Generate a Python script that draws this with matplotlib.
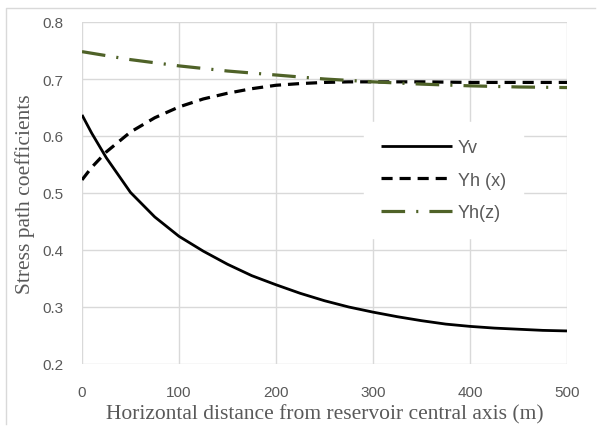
import matplotlib
matplotlib.use("Agg")
import matplotlib.pyplot as plt
from matplotlib.lines import Line2D

# distances (m) and stress path coefficients
x_yv = [0, 10, 25, 50, 75, 100, 125, 150, 175, 200, 225, 250, 275, 300,
        325, 350, 375, 400, 425, 450, 475, 500]
yv = [0.637, 0.605, 0.562, 0.501, 0.458, 0.424, 0.398, 0.375, 0.355, 0.339,
      0.324, 0.311, 0.300, 0.291, 0.283, 0.276, 0.270, 0.266, 0.263, 0.261,
      0.259, 0.258]

x_yhx = [0, 10, 25, 50, 75, 100, 125, 150, 175, 200, 225, 250, 275, 300,
         350, 400, 450, 500]
yhx = [0.523, 0.545, 0.572, 0.607, 0.632, 0.651, 0.665, 0.675, 0.683, 0.689,
       0.692, 0.694, 0.695, 0.695, 0.695, 0.694, 0.694, 0.694]

x_yhz = [0, 25, 50, 100, 150, 200, 250, 300, 350, 400, 450, 500]
yhz = [0.748, 0.741, 0.734, 0.723, 0.714, 0.707, 0.700, 0.695, 0.691, 0.688,
       0.686, 0.685]

labels = ["Yv", "Yh (x)", "Yh(z)"]
xticks = [0, 100, 200, 300, 400, 500]
yticks = [0.2, 0.3, 0.4, 0.5, 0.6, 0.7, 0.8]

grey_txt = "#595959"
grid_col = "#D9D9D9"
green = "#4F6228"

plt.rcParams["lines.scale_dashes"] = False

fig = plt.figure(figsize=(5.97, 4.27), dpi=100)
W, H = 597, 427
ax = fig.add_axes([82 / W, 1 - 365 / H, (567 - 82) / W, (365 - 23) / H])

l1, = ax.plot(x_yv, yv, color="black", lw=2.0, solid_capstyle="butt")
l2, = ax.plot(x_yhx, yhx, color="black", lw=2.3, dashes=(8, 5.0))
l3, = ax.plot(x_yhz, yhz, color=green, lw=2.3, dashes=(17, 8, 1.5, 8))

ax.set_xlim(0, 500)
ax.set_ylim(0.2, 0.8)
ax.set_xticks(xticks)
ax.set_yticks(yticks)
ax.set_xticklabels([str(t) for t in xticks])
ax.set_yticklabels([f"{t:.1f}" for t in yticks])
ax.grid(True, color=grid_col, lw=1.0)
ax.set_axisbelow(True)
for s in ax.spines.values():
    s.set_visible(False)
ax.tick_params(length=0, colors=grey_txt, labelsize=11)
ax.tick_params(axis="x", pad=15)
ax.tick_params(axis="y", pad=13.5)
for lab in ax.get_xticklabels() + ax.get_yticklabels():
    lab.set_fontfamily("Liberation Sans")

ax.set_xlabel("Horizontal distance from reservoir central axis (m)",
              family="Liberation Serif", fontsize=15.5, color=grey_txt,
              labelpad=4)
ax.set_ylabel("Stress path coefficients", family="Liberation Serif",
              fontsize=15.5, color=grey_txt, labelpad=5)

# white legend box over the grid, like the Excel original
leg = ax.legend([l1, l2, l3], labels, loc="upper left",
                bbox_to_anchor=((375 - 82) / 485, 1 - (134 - 23) / 342),
                frameon=True, fancybox=False, edgecolor="white",
                facecolor="white", framealpha=1,
                prop={"family": "Liberation Sans", "size": 13},
                handlelength=3.9, handletextpad=0.35, labelspacing=0.85,
                borderpad=0.35, borderaxespad=0)
leg.get_frame().set_boxstyle("square", pad=0.6)
for t in leg.get_texts():
    t.set_color(grey_txt)

# chart area border (light grey, left and top)
fig.add_artist(Line2D([6 / W, 6 / W, 595 / W], [1 - 425 / H, 1 - 9 / H, 1 - 9 / H],
                      transform=fig.transFigure, color=grid_col, lw=1.0))

fig.savefig("out.png", dpi=100)
